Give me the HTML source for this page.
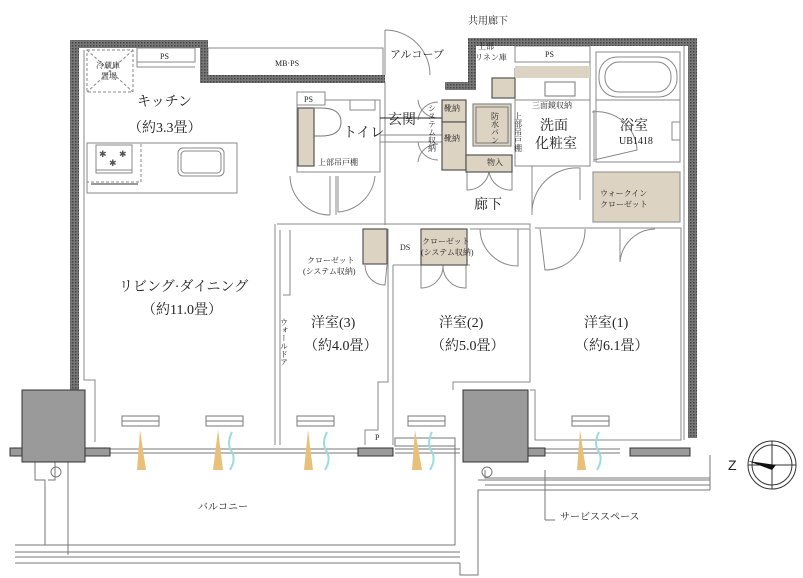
<!DOCTYPE html>
<html><head><meta charset="utf-8"><style>
body{margin:0;background:#fff}
svg{display:block}
text{font-family:"Liberation Serif","Noto Serif CJK SC","Noto Sans CJK JP",serif;fill:#222}
.s{font-size:8px}
.m{font-size:14px}
</style></head><body>
<svg width="803" height="578" viewBox="0 0 803 578" xmlns="http://www.w3.org/2000/svg">
<defs><pattern id="h" width="3" height="3" patternUnits="userSpaceOnUse"><rect width="3" height="3" fill="#777"/><rect width="1.5" height="1.5" fill="#444"/></pattern></defs>
<g fill="none" stroke="#888" stroke-width="1">
<polyline points="84,50 84,380 95,380 95,442"/>
<rect x="87" y="143" width="150" height="50"/>
<rect x="87" y="50" width="46" height="42" stroke-dasharray="3,2"/>
<line x1="87" y1="50" x2="133" y2="92" stroke-dasharray="3,2"/><line x1="133" y1="50" x2="87" y2="92" stroke-dasharray="3,2"/>
<rect x="137" y="48" width="58" height="14"/>
<polyline points="137,62 137,67 195,67"/>
<rect x="178" y="148" width="46" height="28" rx="5"/><rect x="181" y="151" width="40" height="22" rx="4"/>
<rect x="87" y="143" width="54" height="39" stroke-dasharray="3,2"/>
<rect x="96" y="145" width="36" height="28"/><line x1="96" y1="170" x2="132" y2="170"/>
<line x1="91" y1="184" x2="138" y2="184" stroke="#333"/>
<rect x="208" y="48" width="175" height="30"/>
<rect x="297" y="92" width="28" height="13"/>
<polyline points="297,105 297,172 380,172 380,100 325,100"/>
<rect x="350" y="100" width="25" height="10"/>
<line x1="380" y1="135" x2="442" y2="135"/><line x1="380" y1="142" x2="442" y2="142"/>
<path d="M290,176 A40,40 0 0 0 330,215"/><line x1="330" y1="176" x2="330" y2="215"/>
<path d="M338,176 L338,212 A40,40 0 0 0 375,176"/><line x1="336" y1="176" x2="336" y2="215"/>
<path d="M385,30 A45,45 0 0 1 430,75"/><line x1="385" y1="30" x2="385" y2="75"/>
<polyline points="385,82 385,225"/>
<path d="M418,100 A20,20 0 0 0 438,118 M418,120 A20,20 0 0 1 438,102 M418,142 A20,20 0 0 0 438,160 M418,162 A20,20 0 0 1 438,144"/>
<line x1="380" y1="118" x2="442" y2="118" stroke="#222"/>
<polyline points="277,224 530,224 530,228"/>
<line x1="275" y1="224" x2="275" y2="445"/><line x1="280" y1="230" x2="280" y2="445"/>
<polyline points="290,230 290,295 283,295"/>
<polyline points="388,229 388,382 378,382 378,430 365,430 365,445"/>
<polyline points="393,265 393,445"/>
<polyline points="393,265 470,265"/>
<polyline points="470,229 530,229 530,382 453,382 453,390"/>
<polyline points="535,228 681,228 681,440 535,440 535,390 530,390"/>
<path d="M480,229 A38,38 0 0 0 518,266 L518,229 M540,229 L545,270 A40,40 0 0 0 585,229 M620,229 L620,262 A36,36 0 0 1 655,229"/>
<path d="M365,265 A20,20 0 0 0 385,285 L387,265 M421,265 L421,288 A22,22 0 0 0 443,265 A22,22 0 0 0 466,288 L466,265"/>
<path d="M467,155 L467,190 A22,22 0 0 0 489,172 A22,22 0 0 0 512,190 L512,172"/>
<path d="M532,166 L532,215 A45,45 0 0 1 580,168 L580,200"/>
<rect x="515" y="46" width="75" height="16"/>
<polyline points="515,68 515,166 590,166 590,62"/>
<rect x="596" y="52" width="84" height="110"/>
<rect x="599" y="57" width="78" height="40" rx="18"/><rect x="605" y="62" width="66" height="30" rx="14"/>
<line x1="596" y1="100" x2="680" y2="100"/>
<line x1="590" y1="110" x2="590" y2="162"/><line x1="594" y1="110" x2="594" y2="162"/>
<path d="M592,112 A40,40 0 0 1 637,150 L594,160"/>
<rect x="672" y="122" width="8" height="18"/>
<line x1="515" y1="100" x2="590" y2="100"/>
<line x1="684" y1="46" x2="684" y2="440"/>
<g stroke="#777"><rect x="122" y="416" width="37" height="10"/><line x1="122" y1="421" x2="159" y2="421"/>
<rect x="206" y="416" width="37" height="10"/><line x1="206" y1="421" x2="243" y2="421"/>
<rect x="297" y="416" width="37" height="10"/><line x1="297" y1="421" x2="334" y2="421"/>
<rect x="408" y="416" width="37" height="10"/><line x1="408" y1="421" x2="445" y2="421"/>
<rect x="572" y="416" width="37" height="10"/><line x1="572" y1="421" x2="609" y2="421"/>
<line x1="110" y1="449" x2="360" y2="449"/><line x1="110" y1="453" x2="360" y2="453"/>
<line x1="395" y1="449" x2="460" y2="449"/><line x1="395" y1="453" x2="460" y2="453"/>
<line x1="545" y1="449" x2="620" y2="449"/><line x1="545" y1="453" x2="620" y2="453"/>
<rect x="395" y="438" width="60" height="8"/>
<polyline points="15,545 455,545 455,440"/>
<line x1="15" y1="552" x2="460" y2="552"/><line x1="15" y1="557" x2="460" y2="557"/><line x1="15" y1="563" x2="460" y2="563"/>
<polyline points="460,563 460,575 478,575 478,490 710,490"/>
<line x1="478" y1="480" x2="710" y2="480"/><line x1="485" y1="485" x2="710" y2="485"/>
<polyline points="485,470 485,478 710,478"/>
<polyline points="35,462 35,480 45,480 45,545"/>
<polyline points="55,462 55,480 48,480"/>
<circle cx="56" cy="472" r="5"/><circle cx="487" cy="472" r="5"/>
<line x1="68" y1="462" x2="68" y2="555"/>
<line x1="710" y1="455" x2="710" y2="490"/>
<line x1="545" y1="470" x2="545" y2="520"/><line x1="545" y1="520" x2="555" y2="520"/>
</g>
</g>
<g fill="#555" font-size="9"><text x="99" y="157" style="fill:#555">✱</text><text x="119" y="157" style="fill:#555">✱</text><text x="109" y="166" style="fill:#555">✱</text></g>
<g fill="#ddd3c3" stroke="#555" stroke-width="1.2">
<rect x="298" y="108" width="16" height="58"/>
<rect x="442" y="100" width="24" height="22"/><rect x="442" y="122" width="24" height="48"/>
<rect x="466" y="155" width="46" height="17"/>
<rect x="473" y="104" width="38" height="42" stroke="#888"/>
<rect x="492" y="78" width="23" height="20"/>
<rect x="515" y="66" width="75" height="12" stroke="none"/>
<rect x="593" y="172" width="87" height="50" stroke="#999"/>
<rect x="363" y="229" width="24" height="35"/>
<rect x="421" y="229" width="46" height="36"/>
</g>
<g fill="none" stroke="#777"><rect x="545" y="82" width="30" height="14"/><path d="M313,108 h8 q20,0 20,14 q0,14 -20,14 h-8" /><rect x="476" y="107" width="32" height="36"/></g>
<g fill="url(#h)">
<rect x="70" y="40" width="9" height="355"/>
<rect x="70" y="40" width="135" height="8"/>
<rect x="200" y="40" width="8" height="42"/>
<rect x="200" y="75" width="185" height="8"/>
<rect x="468" y="38" width="229" height="8"/>
<rect x="468" y="38" width="8" height="52"/>
<rect x="445" y="82" width="31" height="8"/>
<rect x="688" y="38" width="9" height="400"/>
</g>
<g fill="#9a9a9a" stroke="#333">
<rect x="22" y="390" width="63" height="72"/>
<rect x="463" y="390" width="65" height="72"/>
<rect x="10" y="448" width="12" height="8"/><rect x="85" y="448" width="25" height="8"/>
<rect x="358" y="448" width="35" height="8"/><rect x="528" y="448" width="17" height="8"/>
<rect x="630" y="448" width="60" height="8"/>
</g>
<g fill="#e8c07a"><polygon points="140,430 137,470 146,470"/><polygon points="218,430 213,470 223,470"/><polygon points="308,430 304,470 313,470"/><polygon points="415,430 412,470 422,470"/><polygon points="580,430 577,470 586,470"/></g>
<g fill="none" stroke="#9dd" stroke-width="2"><path d="M232,432 q-6,12 0,20 q4,8 -2,18"/><path d="M327,432 q-6,12 0,20 q4,8 -2,18"/><path d="M432,432 q-6,12 0,20 q4,8 -2,18"/><path d="M599,432 q-6,12 0,20 q4,8 -2,18"/></g>
<g fill="none" stroke="#333"><circle cx="772" cy="465" r="24"/><circle cx="772" cy="465" r="20"/><line x1="772" y1="441" x2="772" y2="489"/><line x1="748" y1="465" x2="796" y2="465"/></g>
<polygon points="748,461 776,465 772,470" fill="#111"/>
<text x="728" y="470" class="m" style="font-family:'Liberation Sans',sans-serif">Z</text>
<text x="468" y="24" class="s" style="font-size:10px">共用廊下</text>
<text x="390" y="58" class="s" style="font-size:11px">アルコーブ</text>
<text x="160" y="59" class="s">PS</text>
<text x="275" y="66" class="s">MB·PS</text>
<text x="304" y="102" class="s">PS</text>
<text x="545" y="57" class="s">PS</text>
<text x="96" y="68" class="s">冷蔵庫</text><text x="101" y="79" class="s">置場</text>
<text x="137" y="106" class="m">キッチン</text>
<text x="128" y="132" class="m">（約3.3畳）</text>
<text x="343" y="137" class="m">トイレ</text>
<text x="318" y="165" class="s">上部吊戸棚</text>
<text x="388" y="124" class="m">玄関</text>
<text x="444" y="111" class="s">靴納</text><text x="444" y="141" class="s">靴納</text>
<text x="487" y="165" class="s">物入</text>
<text x="478" y="49" class="s">上部</text><text x="475" y="60" class="s">リネン庫</text>
<text x="532" y="108" class="s">三面鏡収納</text>
<text x="540" y="130" class="m">洗面</text><text x="535" y="148" class="m">化粧室</text>
<text x="620" y="130" class="m">浴室</text><text x="619" y="144" class="s" style="font-size:10px">UB1418</text>
<text x="600" y="196" class="s">ウォークイン</text><text x="600" y="207" class="s">クローゼット</text>
<text x="474" y="209" class="m">廊下</text>
<text x="400" y="250" class="s">DS</text>
<text x="422" y="244" class="s">クローゼット</text><text x="421" y="255" class="s">(システム収納)</text>
<text x="307" y="263" class="s">クローゼット</text><text x="303" y="274" class="s">(システム収納)</text>
<text x="119" y="291" class="m">リビング·ダイニング</text>
<text x="142" y="314" class="m">（約11.0畳）</text>
<text x="311" y="327" class="m">洋室(3)</text><text x="304" y="350" class="m">（約4.0畳）</text>
<text x="439" y="327" class="m">洋室(2)</text><text x="431" y="350" class="m">（約5.0畳）</text>
<text x="584" y="327" class="m">洋室(1)</text><text x="575" y="350" class="m">（約6.1畳）</text>
<text x="375" y="440" class="s">P</text>
<text x="198" y="510" class="s" style="font-size:10px">バルコニー</text>
<text x="560" y="520" class="s" style="font-size:10px">サービススペース</text>
<text x="284" y="318" class="s" writing-mode="tb">ウォールドア</text>
<text x="495" y="112" class="s" writing-mode="tb">防水パン</text>
<text x="432" y="104" class="s" writing-mode="tb">システム収納</text>
<text x="518" y="112" class="s" writing-mode="tb">上部吊戸棚</text>
</svg>
</body></html>
